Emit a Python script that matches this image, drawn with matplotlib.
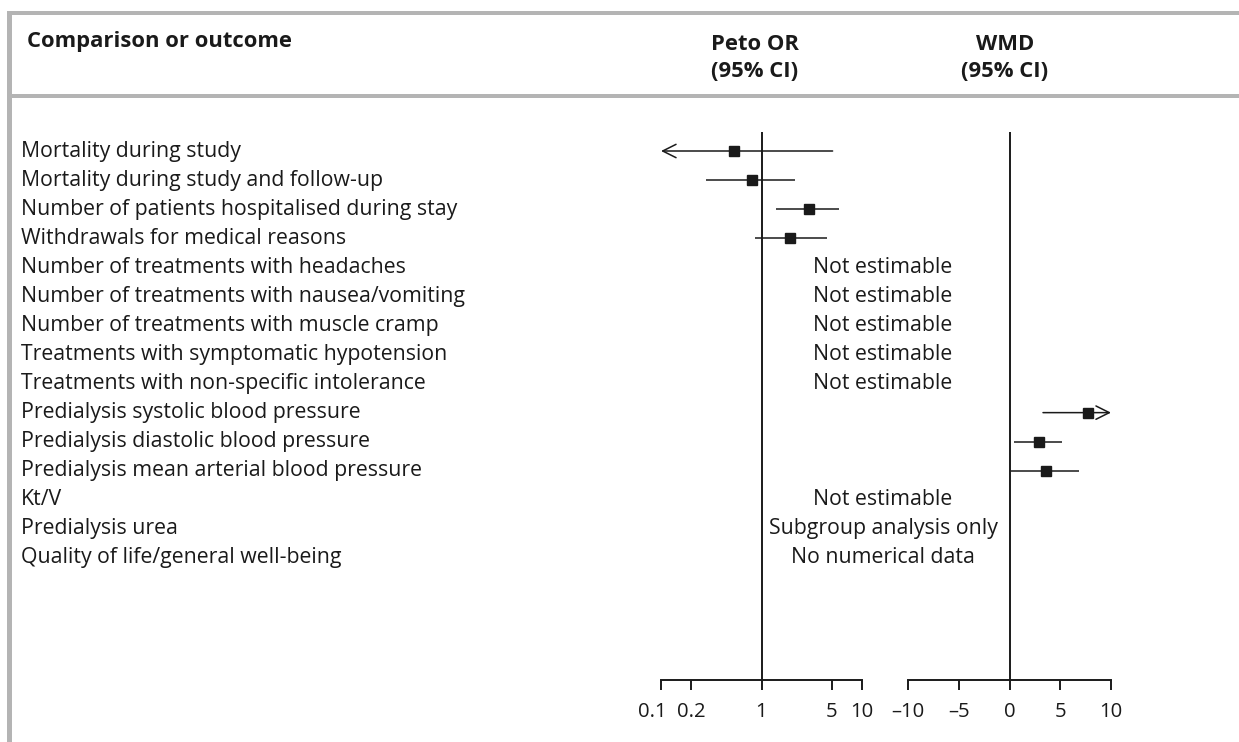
import matplotlib
matplotlib.use("Agg")
import matplotlib.pyplot as plt
from matplotlib.transforms import blended_transform_factory, ScaledTranslation
from matplotlib.patches import Rectangle

# ---------------- data ----------------
outcomes = [
    "Mortality during study",
    "Mortality during study and follow-up",
    "Number of patients hospitalised during stay",
    "Withdrawals for medical reasons",
    "Number of treatments with headaches",
    "Number of treatments with nausea/vomiting",
    "Number of treatments with muscle cramp",
    "Treatments with symptomatic hypotension",
    "Treatments with non-specific intolerance",
    "Predialysis systolic blood pressure",
    "Predialysis diastolic blood pressure",
    "Predialysis mean arterial blood pressure",
    "Kt/V",
    "Predialysis urea",
    "Quality of life/general well-being",
]

# Peto OR rows (row index, estimate, lower, upper); None = off scale (arrow)
or_rows = [0, 1, 2, 3]
or_est = [0.53, 0.81, 3.0, 1.94]
or_low = [None, 0.28, 1.38, 0.87]
or_high = [5.1, 2.13, 5.85, 4.45]

# WMD rows
wmd_rows = [9, 10, 11]
wmd_est = [7.7, 2.9, 3.6]
wmd_low = [3.3, 0.4, 0.1]
wmd_high = [None, 5.2, 6.8]

# text-only rows
note_rows = [4, 5, 6, 7, 8, 12, 13, 14]
note_text = ["Not estimable", "Not estimable", "Not estimable", "Not estimable",
             "Not estimable", "Not estimable", "Subgroup analysis only",
             "No numerical data"]

or_ticks = [0.1, 0.2, 1, 5, 10]
or_ticklabels = ["0.1", "0.2", "1", "5", "10"]
wmd_ticks = [-10, -5, 0, 5, 10]
wmd_ticklabels = ["\u201310", "\u20135", "0", "5", "10"]

header_outcome = "Comparison or outcome"
header_or = "Peto OR\n(95% CI)"
header_wmd = "WMD\n(95% CI)"

# ---------------- layout ----------------
W, H = 1239, 742
FONT = "Open Sans"
FS = 15.3
FS_TICK = 14.6
FS_HEAD = 15.8
INK = "#1a1a1a"
GREY = "#b4b4b4"

plt.rcParams["font.family"] = [FONT, "DejaVu Sans"]

fig = plt.figure(figsize=(W / 100, H / 100), dpi=100)


def fx(px):
    return px / W


def fy(py):
    return 1 - py / H


# border rules
fig.add_artist(Rectangle((fx(7), fy(15)), fx(W - 7), 4 / H, transform=fig.transFigure,
                         facecolor=GREY, edgecolor="none"))
fig.add_artist(Rectangle((fx(7), 0), 4.5 / W, fy(11), transform=fig.transFigure,
                         facecolor=GREY, edgecolor="none"))
fig.add_artist(Rectangle((fx(11), fy(98)), fx(W - 11), 4 / H, transform=fig.transFigure,
                         facecolor=GREY, edgecolor="none"))

row0_px, row_step = 151.0, 29.07
y_top_px, y_bot_px = 132.0, 680.0
ylim = ((y_bot_px - row0_px) / row_step, (y_top_px - row0_px) / row_step)
ax_bottom = fy(y_bot_px)
ax_height = (y_bot_px - y_top_px) / H

ax1 = fig.add_axes([fx(661), ax_bottom, fx(862 - 661), ax_height])
ax2 = fig.add_axes([fx(908), ax_bottom, fx(1111 - 908), ax_height])

for ax in (ax1, ax2):
    ax.set_ylim(*ylim)
    ax.patch.set_alpha(0)
    for s in ("top", "left", "right"):
        ax.spines[s].set_visible(False)
    ax.spines["bottom"].set_linewidth(1.4)
    ax.spines["bottom"].set_color(INK)
    ax.set_yticks([])
    ax.tick_params(axis="x", direction="out", length=7.5, width=1.4, color=INK,
                   labelsize=FS_TICK, labelcolor=INK, pad=8)

ax1.set_xscale("log")
ax1.set_xlim(0.1, 10)
ax1.set_xticks(or_ticks)
ax1.set_xticklabels(or_ticklabels)
ax1.minorticks_off()
ax1.axvline(1, color=INK, lw=1.4)

# nudge the crowded first label left, as in the original
lab0 = ax1.get_xticklabels()[0]
lab0.set_transform(lab0.get_transform() + ScaledTranslation(-9 / 100, 0, fig.dpi_scale_trans))

ax2.set_xlim(-10, 10)
ax2.set_xticks(wmd_ticks)
ax2.set_xticklabels(wmd_ticklabels)
ax2.axvline(0, color=INK, lw=1.4)

LW = 1.1
MS = 7.3
arrow_kw = dict(arrowstyle="->", lw=LW, color=INK, mutation_scale=24,
                shrinkA=0, shrinkB=0)


def draw(ax, rows, est, low, high, xmin, xmax):
    for r, e, lo, hi in zip(rows, est, low, high):
        lo_v = xmin if lo is None else lo
        hi_v = xmax if hi is None else hi
        if lo is None:
            ax.annotate("", xy=(xmin, r), xytext=(hi_v, r), arrowprops=arrow_kw,
                        annotation_clip=False)
        elif hi is None:
            ax.annotate("", xy=(xmax, r), xytext=(lo_v, r), arrowprops=arrow_kw,
                        annotation_clip=False)
        else:
            ax.plot([lo_v, hi_v], [r, r], color=INK, lw=LW, solid_capstyle="butt")
        ax.plot([e], [r], marker="s", ms=MS, color=INK, mec=INK, zorder=5)


draw(ax1, or_rows, or_est, or_low, or_high, 0.1, 10)
draw(ax2, wmd_rows, wmd_est, wmd_low, wmd_high, -10, 10)

# outcome labels
tr = blended_transform_factory(fig.transFigure, ax1.transData)
for i, name in enumerate(outcomes):
    ax1.text(fx(21), i, name, transform=tr, ha="left", va="center",
             fontsize=FS, color=INK, clip_on=False)

for r, t in zip(note_rows, note_text):
    ax1.text(fx(883), r, t, transform=tr, ha="center", va="center",
             fontsize=FS, color=INK, clip_on=False)

# headers
fig.text(fx(27), fy(41), header_outcome, ha="left", va="center",
         fontsize=FS_HEAD, fontweight="bold", color=INK)
fig.text(fx(755), fy(58), header_or, ha="center", va="center",
         fontsize=FS_HEAD, fontweight="bold", color=INK, linespacing=1.35)
fig.text(fx(1005), fy(58), header_wmd, ha="center", va="center",
         fontsize=FS_HEAD, fontweight="bold", color=INK, linespacing=1.35)

fig.savefig("out.png", dpi=100)
